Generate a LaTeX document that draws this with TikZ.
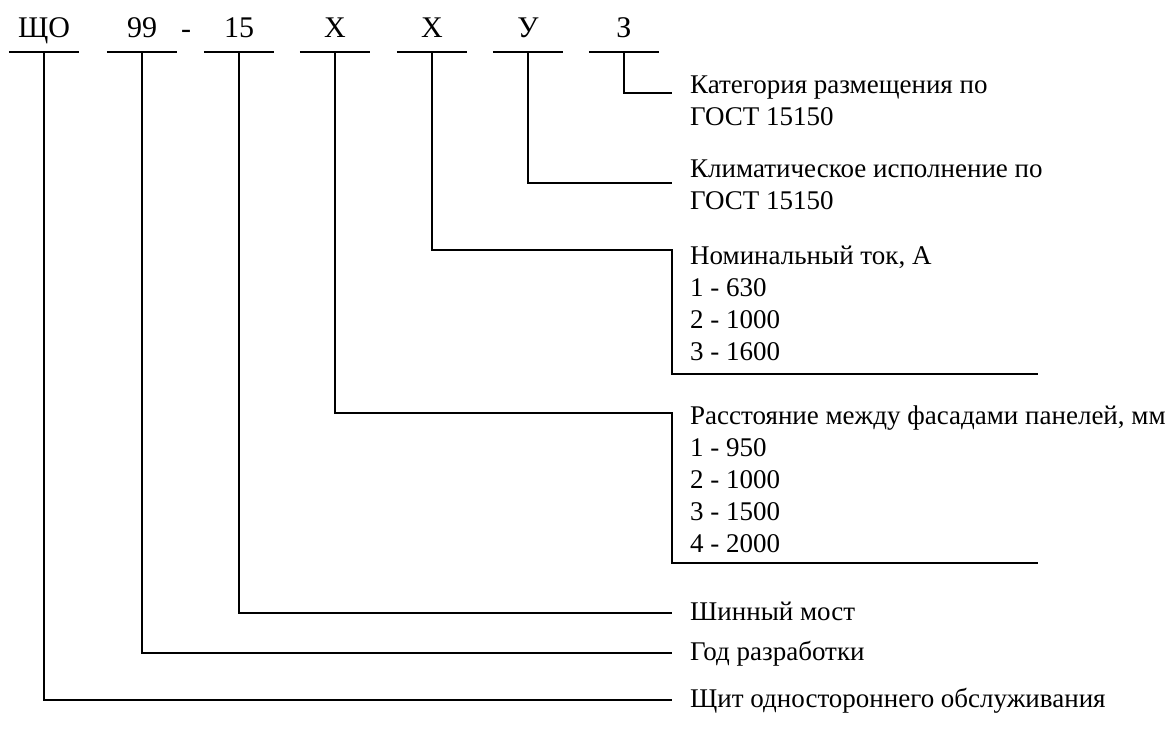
\documentclass[tikz,border=0pt]{standalone}
\usepackage{fontspec}
\setmainfont{Liberation Serif}
\usetikzlibrary{positioning}

\tikzset{
  code/.style={anchor=south, minimum width=70pt, inner xsep=0pt, inner ysep=14pt,
               text depth=0pt, font=\fontsize{30}{34}\selectfont},
  desc/.style={anchor=base west, align=left, inner sep=0pt,
               font=\fontsize{27}{32}\selectfont},
  link/.style={line width=1.2pt}
}

\begin{document}
\begin{tikzpicture}[x=1pt, y=-1pt]
  \useasboundingbox (0,0) rectangle (1169,736);

  % code of the panel
  \node[code] (sho) at (44,52)  {ЩО};
  \node[code] (god) at (142,52) {99};
  \node[anchor=base, inner sep=0pt, font=\fontsize{30}{34}\selectfont] (dash) at (186,38) {-};
  \node[code] (shm) at (239,52) {15};
  \node[code] (ras) at (335,52) {Х};
  \node[code] (nom) at (432,52) {Х};
  \node[code] (kli) at (528,52) {У};
  \node[code] (kat) at (624,52) {З};
  \foreach \n in {sho,god,shm,ras,nom,kli,kat}
    \draw[link] (\n.south west) -- (\n.south east);

  % meanings (base = last line)
  \node[desc] (katT) at (690,125) {Категория размещения по\\ГОСТ 15150};
  \node[desc] (kliT) at (690,209) {Климатическое исполнение по\\ГОСТ 15150};
  \node[desc] (nomT) at (690,360) {Номинальный ток, А\\1 - 630\\2 - 1000\\3 - 1600};
  \node[desc] (rasT) at (690,552) {Расстояние между фасадами панелей, мм\\1 - 950\\2 - 1000\\3 - 1500\\4 - 2000};
  \node[desc] (shmT) at (690,620) {Шинный мост};
  \node[desc] (godT) at (690,660) {Год разработки};
  \node[desc] (shoT) at (690,707) {Щит одностороннего обслуживания};

  \coordinate (nomE) at (1038,374);
  \coordinate (rasE) at (1038,563);

  % leaders
  \draw[link] (kat.south) |- ([xshift=-18pt,yshift=32pt]katT.base west);
  \draw[link] (kli.south) |- ([xshift=-18pt,yshift=26pt]kliT.base west);
  \draw[link] (nom.south) |- ([xshift=-18pt,yshift=110pt]nomT.base west) |- (nomE);
  \draw[link] (ras.south) |- ([xshift=-18pt,yshift=139pt]rasT.base west) |- (rasE);
  \draw[link] (shm.south) |- ([xshift=-18pt,yshift=7pt]shmT.base west);
  \draw[link] (god.south) |- ([xshift=-18pt,yshift=7pt]godT.base west);
  \draw[link] (sho.south) |- ([xshift=-18pt,yshift=7pt]shoT.base west);
\end{tikzpicture}
\end{document}
